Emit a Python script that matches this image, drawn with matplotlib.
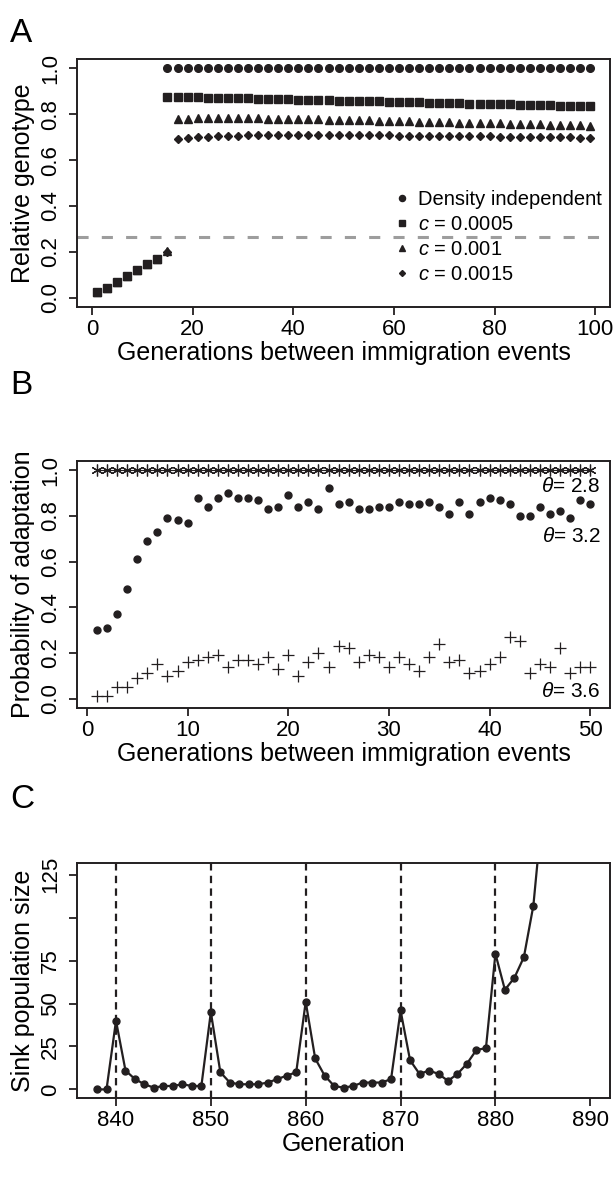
import numpy as np
import matplotlib
matplotlib.use("Agg")
import matplotlib.pyplot as plt

plt.rcParams['font.family'] = ['Liberation Sans', 'DejaVu Sans']
plt.rcParams['mathtext.fontset'] = 'custom'
plt.rcParams['mathtext.rm'] = 'Liberation Sans'
plt.rcParams['mathtext.it'] = 'Liberation Sans:italic'
plt.rcParams['lines.scale_dashes'] = False

INK = '#231f20'

# ---- panel A: relative genotype vs generations between immigration
gens_a = np.arange(1, 100, 2)
low_a = [0.026, 0.042, 0.067, 0.092, 0.120, 0.145, 0.170]
dens_indep = low_a + [1.0] * 43
c_0005 = low_a + [
    0.875, 0.875, 0.874, 0.874, 0.873, 0.872, 0.871, 0.870, 0.869, 0.868,
    0.867, 0.866, 0.865, 0.864, 0.863, 0.862, 0.861, 0.860, 0.859, 0.858,
    0.857, 0.856, 0.855, 0.854, 0.853, 0.852, 0.851, 0.850, 0.849, 0.848,
    0.847, 0.846, 0.845, 0.844, 0.843, 0.842, 0.841, 0.840, 0.839, 0.838,
    0.837, 0.836, 0.835]
c_001 = low_a + [0.202] + [
    0.778, 0.781, 0.782, 0.783, 0.783, 0.783, 0.783, 0.782, 0.782, 0.781,
    0.781, 0.780, 0.779, 0.779, 0.778, 0.777, 0.776, 0.775, 0.774, 0.773,
    0.772, 0.771, 0.770, 0.769, 0.768, 0.767, 0.766, 0.765, 0.764, 0.763,
    0.762, 0.761, 0.760, 0.759, 0.758, 0.757, 0.756, 0.755, 0.754, 0.753,
    0.752, 0.751]
c_0015 = low_a + [0.200] + [
    0.690, 0.695, 0.699, 0.702, 0.704, 0.706, 0.707, 0.708, 0.709, 0.709,
    0.710, 0.710, 0.710, 0.710, 0.710, 0.710, 0.710, 0.709, 0.709, 0.709,
    0.708, 0.708, 0.707, 0.707, 0.706, 0.706, 0.705, 0.705, 0.704, 0.704,
    0.703, 0.703, 0.702, 0.702, 0.701, 0.701, 0.700, 0.700, 0.699, 0.699,
    0.698, 0.697]
threshold_a = 0.266

# ---- panel B: probability of adaptation
gens_b = np.arange(1, 51)
theta_28 = [1.0] * 50
theta_32 = [0.30, 0.31, 0.37, 0.48, 0.61, 0.69, 0.73, 0.79, 0.78, 0.77,
            0.88, 0.84, 0.88, 0.90, 0.88, 0.88, 0.87, 0.83, 0.84, 0.89,
            0.84, 0.86, 0.83, 0.92, 0.85, 0.86, 0.83, 0.83, 0.84, 0.84,
            0.86, 0.85, 0.85, 0.86, 0.84, 0.81, 0.86, 0.81, 0.86, 0.88,
            0.87, 0.85, 0.80, 0.80, 0.84, 0.81, 0.82, 0.79, 0.87, 0.85]
theta_36 = [0.01, 0.01, 0.05, 0.05, 0.09, 0.11, 0.15, 0.10, 0.12, 0.16,
            0.17, 0.18, 0.19, 0.14, 0.17, 0.17, 0.15, 0.18, 0.13, 0.19,
            0.10, 0.16, 0.20, 0.14, 0.23, 0.22, 0.16, 0.19, 0.18, 0.14,
            0.18, 0.15, 0.12, 0.18, 0.24, 0.16, 0.17, 0.11, 0.12, 0.15,
            0.18, 0.27, 0.25, 0.11, 0.15, 0.14, 0.22, 0.11, 0.14, 0.14]

# ---- panel C: sink population time series
generation = np.arange(838, 886)
sink_size = [0, 0, 40, 11, 6, 3, 1, 2, 2, 3, 2, 2,
             45, 10, 4, 3, 3, 3, 4, 6, 8, 10,
             51, 18, 8, 2, 1, 2, 4, 4, 4, 6,
             46, 17, 9, 11, 9, 5, 9, 15, 23, 24,
             79, 58, 65, 77, 107, 165]
immigration = [840, 850, 860, 870, 880]

W, H = 615, 1185
fig = plt.figure(figsize=(W / 100, H / 100), dpi=100)


def px_axes(x0, y0, x1, y1):
    return fig.add_axes([x0 / W, 1 - y1 / H, (x1 - x0) / W, (y1 - y0) / H])


def style(ax):
    for s in ax.spines.values():
        s.set_linewidth(1.4)
        s.set_color(INK)
    ax.tick_params(direction='out', length=5.5, width=1.3, color=INK,
                   labelsize=16, pad=3)
    ax.tick_params(axis='y', labelrotation=90, pad=6)
    for lbl in ax.get_yticklabels():
        lbl.set_va('center')


# panel A
axA = px_axes(77.3, 59.3, 610, 306.7)
axA.axhline(threshold_a, color='#9d9d9d', lw=2.2, ls=(0, (8, 9.5)), zorder=1)
axA.plot(gens_a, dens_indep, 'o', color=INK, ms=5.5, ls='none',
         label='Density independent')
axA.plot(gens_a, c_0005, 's', color=INK, ms=5.3, ls='none',
         label=r'$c$ = 0.0005')
axA.plot(gens_a, c_001, '^', color=INK, ms=6, ls='none',
         label=r'$c$ = 0.001')
axA.plot(gens_a, c_0015, 'D', color=INK, ms=3.8, ls='none',
         label=r'$c$ = 0.0015')
axA.set_xlim(-2.92, 102.92)
axA.set_ylim(-0.04, 1.04)
axA.set_xticks([0, 20, 40, 60, 80, 100])
axA.set_yticks([0.0, 0.2, 0.4, 0.6, 0.8, 1.0])
axA.set_yticklabels(['0.0', '0.2', '0.4', '0.6', '0.8', '1.0'])
style(axA)
axA.set_xlabel('Generations between immigration events', fontsize=18,
               labelpad=1)
axA.set_ylabel('Relative genotype', fontsize=18, labelpad=4)
axA.legend(loc='center left', bbox_to_anchor=(0.598, 0.282), frameon=False,
           fontsize=14.5, handlelength=0.6, handletextpad=0.5,
           labelspacing=0.3, borderpad=0, borderaxespad=0, markerscale=0.8)

# panel B
axB = px_axes(77.3, 461, 610, 707.7)
axB.plot(gens_b, theta_28, '-', color=INK, lw=0.8, marker=(6, 2, 0),
         ms=8.5, mew=0.9)
axB.plot(gens_b, theta_32, 'o', color=INK, ms=5, ls='none')
axB.plot(gens_b, theta_36, '+', color=INK, ms=9, mew=0.9, ls='none')
axB.text(51.05, 0.927, r'$\theta$= 2.8', ha='right', va='center', fontsize=15)
axB.text(51.05, 0.709, r'$\theta$= 3.2', ha='right', va='center', fontsize=15)
axB.text(51.05, 0.033, r'$\theta$= 3.6', ha='right', va='center', fontsize=15)
axB.set_xlim(-0.96, 51.96)
axB.set_ylim(-0.04, 1.04)
axB.set_xticks([0, 10, 20, 30, 40, 50])
axB.set_yticks([0.0, 0.2, 0.4, 0.6, 0.8, 1.0])
axB.set_yticklabels(['0.0', '0.2', '0.4', '0.6', '0.8', '1.0'])
style(axB)
axB.set_xlabel('Generations between immigration events', fontsize=18,
               labelpad=1)
axB.set_ylabel('Probability of adaptation', fontsize=18, labelpad=4)

# panel C
axC = px_axes(77.3, 862.7, 610, 1098)
for g in immigration:
    axC.axvline(g, color=INK, lw=1.6, ls=(0, (5.3, 3.8)), zorder=1)
axC.plot(generation, sink_size, '-o', color=INK, lw=1.6, ms=5, zorder=2)
axC.set_xlim(835.92, 892.08)
axC.set_ylim(-5, 132)
axC.set_xticks([840, 850, 860, 870, 880, 890])
axC.set_yticks([0, 25, 50, 75, 100, 125])
axC.set_yticklabels(['0', '25', '50', '75', '', '125'])
style(axC)
axC.set_xlabel('Generation', fontsize=18, labelpad=1)
axC.set_ylabel('Sink population size', fontsize=18, labelpad=4)

for letter, ypx in (('A', 33), ('B', 385), ('C', 800)):
    fig.text(10 / W, 1 - ypx / H, letter, fontsize=24, va='center',
             ha='left')

fig.savefig('out.png', dpi=100)
